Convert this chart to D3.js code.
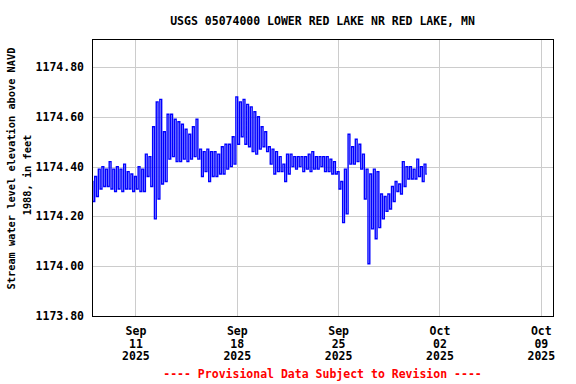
<!DOCTYPE html>
<html lang="en">
<head>
    <meta charset="UTF-8">
    <title>USGS 05074000</title>
    <style>
        *{
            margin: 0;
            padding: 0;
        }
        body{
            background: #fff;
        }
        text{
            font-family: "DejaVu Sans Mono", monospace;
            font-weight: bold;
            fill: #000;
        }
    </style>
</head>
<body>
<div id="myChart"></div>
<script src="https://cdn.jsdelivr.net/npm/d3@7/dist/d3.min.js"></script>
<script>
    /*6-hour bins starting 2025-09-08 00:00, upper and lower gage height (ft)*/
    var startTime = Date.UTC(2025, 8, 8, 0, 0);
    var stepHours = 6;
    var levelHigh = [
        1174.34, 1174.36, 1174.39, 1174.40, 1174.39, 1174.42, 1174.39, 1174.40, 1174.39, 1174.41,
        1174.38, 1174.37, 1174.36, 1174.40, 1174.39, 1174.45, 1174.44, 1174.56, 1174.66, 1174.67,
        1174.54, 1174.61, 1174.61, 1174.59, 1174.58, 1174.57, 1174.55, 1174.53, 1174.56, 1174.59,
        1174.47, 1174.46, 1174.47, 1174.46, 1174.46, 1174.45, 1174.48, 1174.49, 1174.49, 1174.52,
        1174.68, 1174.66, 1174.67, 1174.65, 1174.64, 1174.62, 1174.60, 1174.56, 1174.54, 1174.48,
        1174.47, 1174.46, 1174.44, 1174.41, 1174.45, 1174.45, 1174.44, 1174.44, 1174.44, 1174.44,
        1174.45, 1174.46, 1174.44, 1174.44, 1174.44, 1174.44, 1174.43, 1174.42, 1174.38, 1174.34,
        1174.39, 1174.53, 1174.48, 1174.51, 1174.49, 1174.45, 1174.39, 1174.37, 1174.39, 1174.38,
        1174.29, 1174.28, 1174.29, 1174.32, 1174.34, 1174.33, 1174.42, 1174.40, 1174.40, 1174.39,
        1174.43, 1174.40, 1174.41
    ];
    var levelLow = [
        1174.26, 1174.28, 1174.31, 1174.32, 1174.32, 1174.31, 1174.30, 1174.31, 1174.30, 1174.31,
        1174.31, 1174.30, 1174.31, 1174.30, 1174.30, 1174.36, 1174.32, 1174.19, 1174.27, 1174.33,
        1174.34, 1174.43, 1174.44, 1174.42, 1174.42, 1174.43, 1174.42, 1174.43, 1174.44, 1174.43,
        1174.36, 1174.38, 1174.34, 1174.36, 1174.36, 1174.37, 1174.37, 1174.39, 1174.40, 1174.41,
        1174.49, 1174.52, 1174.49, 1174.48, 1174.46, 1174.45, 1174.47, 1174.48, 1174.46, 1174.41,
        1174.37, 1174.38, 1174.38, 1174.34, 1174.37, 1174.40, 1174.39, 1174.40, 1174.38, 1174.39,
        1174.38, 1174.39, 1174.39, 1174.40, 1174.38, 1174.38, 1174.37, 1174.37, 1174.31, 1174.175,
        1174.21, 1174.41, 1174.41, 1174.42, 1174.39, 1174.27, 1174.01, 1174.15, 1174.11, 1174.155,
        1174.19, 1174.22, 1174.23, 1174.26, 1174.30, 1174.29, 1174.32, 1174.35, 1174.35, 1174.35,
        1174.36, 1174.34, 1174.37
    ];
    var yTicks = [1173.80, 1174.00, 1174.20, 1174.40, 1174.60, 1174.80];
    var xTicks = [[2025, 8, 11], [2025, 8, 18], [2025, 8, 25], [2025, 9, 2], [2025, 9, 9]];
    var monthNames = ["Jan", "Feb", "Mar", "Apr", "May", "Jun", "Jul", "Aug", "Sep", "Oct", "Nov", "Dec"];

    drawChart("myChart");

    function drawChart(myChart) {
        var width = 576, height = 384;
        var left = 92, right = 553, top = 39, bottom = 316;

        var svg = d3.select("#" + myChart).append("svg")
            .attr("width", width)
            .attr("height", height);

        /*比例尺*/
        var x = d3.scaleUtc()
            .domain([new Date(Date.UTC(2025, 8, 8)), new Date(Date.UTC(2025, 9, 10))])
            .range([left, 555.3]);
        var y = d3.scaleLinear()
            .domain([1173.8, 1174.8])
            .range([bottom, 67]);

        /*网格线*/
        var grid = svg.append("g").attr("stroke", "#cccccc").attr("stroke-width", 1);
        grid.selectAll(".hg")
            .data(yTicks)
            .enter()
            .append("line")
            .attr("x1", left)
            .attr("x2", right)
            .attr("y1", function (d) { return Math.round(y(d)) + 0.5; })
            .attr("y2", function (d) { return Math.round(y(d)) + 0.5; });
        grid.selectAll(".vg")
            .data(xTicks)
            .enter()
            .append("line")
            .attr("x1", function (d) { return Math.round(x(new Date(Date.UTC(d[0], d[1], d[2])))) + 0.5; })
            .attr("x2", function (d) { return Math.round(x(new Date(Date.UTC(d[0], d[1], d[2])))) + 0.5; })
            .attr("y1", top)
            .attr("y2", bottom);

        /*数据线: 每个时段先高后低, 阶梯线画成竖条*/
        var points = [];
        levelHigh.forEach(function (h, i) {
            var t = startTime + i * stepHours * 3600000;
            points.push([t, h]);
            points.push([t + stepHours * 1800000, levelLow[i]]);
        });
        var line = d3.line()
            .curve(d3.curveStep)
            .x(function (d) { return x(new Date(d[0])); })
            .y(function (d) { return y(d[1]); });
        svg.append("path")
            .datum(points)
            .attr("d", line)
            .attr("fill", "none")
            .attr("stroke", "#0000ff")
            .attr("stroke-width", 1.4);

        /*边框*/
        svg.append("rect")
            .attr("x", left + 0.5)
            .attr("y", top + 0.5)
            .attr("width", right - left)
            .attr("height", bottom - top)
            .attr("fill", "none")
            .attr("stroke", "#000")
            .attr("stroke-width", 1);

        /*y轴标签*/
        svg.append("g").selectAll("text")
            .data(yTicks)
            .enter()
            .append("text")
            .attr("x", 84)
            .attr("y", function (d) { return y(d) + 4; })
            .attr("text-anchor", "end")
            .style("font-size", "11.5px")
            .text(function (d) { return d.toFixed(2); });

        /*x轴标签*/
        var xl = svg.append("g").selectAll("text")
            .data(xTicks)
            .enter()
            .append("text")
            .attr("text-anchor", "middle")
            .style("font-size", "11.5px");
        xl.each(function (d) {
            var cx = x(new Date(Date.UTC(d[0], d[1], d[2]))) + 0.5;
            var lines = [monthNames[d[1]], (d[2] < 10 ? "0" : "") + d[2], String(d[0])];
            var sel = d3.select(this);
            lines.forEach(function (s, k) {
                sel.append("tspan")
                    .attr("x", cx)
                    .attr("y", 335 + k * 12.5)
                    .text(s);
            });
        });

        /*标题*/
        svg.append("text")
            .attr("x", 322.5)
            .attr("y", 25)
            .attr("text-anchor", "middle")
            .style("font-size", "11.5px")
            .text("USGS 05074000 LOWER RED LAKE NR RED LAKE, MN");

        /*y轴标题*/
        svg.append("text")
            .attr("transform", "translate(15,168.5) rotate(-90)")
            .attr("text-anchor", "middle")
            .style("font-size", "10.3px")
            .text("Stream water level elevation above NAVD");
        svg.append("text")
            .attr("transform", "translate(30.5,175) rotate(-90)")
            .attr("text-anchor", "middle")
            .style("font-size", "10.3px")
            .text("1988, in feet");

        /*脚注*/
        svg.append("text")
            .attr("x", 322.5)
            .attr("y", 378)
            .attr("text-anchor", "middle")
            .style("font-size", "11.5px")
            .style("fill", "#ff0000")
            .text("---- Provisional Data Subject to Revision ----");
    }
</script>
</body>
</html>
